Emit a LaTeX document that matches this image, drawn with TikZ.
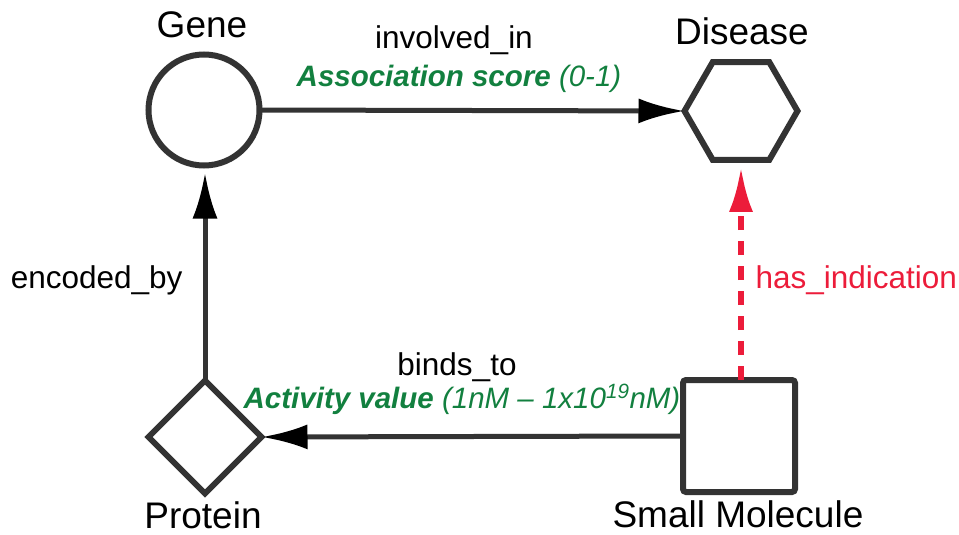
\documentclass[tikz,border=0pt]{standalone}
\usepackage{fontspec}
\setmainfont{Liberation Sans}
\usetikzlibrary{arrows.meta,shapes.geometric}

\definecolor{shapegray}{HTML}{333333}
\definecolor{scoregreen}{HTML}{12803F}
\definecolor{indicred}{HTML}{EC1C3A}

\tikzset{
  entity/.style={draw=shapegray, line width=6pt, inner sep=0pt, outer sep=0pt},
  entitylabel/.style={anchor=base, font=\fontsize{37}{42}\selectfont, text=black},
  relation/.style={draw=shapegray, line width=5pt,
    -{Latex[length=46pt,width=25pt,color=black]}},
  indication/.style={draw=indicred, line width=6pt, dash pattern=on 14pt off 11pt,
    -{Latex[length=45pt,width=24pt,color=indicred]}},
  rellabel/.style={anchor=base, font=\fontsize{31.5}{36}\selectfont, text=black},
  scorelabel/.style={anchor=base, font=\fontsize{29.5}{34}\selectfont\itshape, text=scoregreen},
}

\begin{document}
\begin{tikzpicture}[x=1pt,y=-1pt]
  \useasboundingbox (0,0) rectangle (959,535);

  % entities
  \node[entity, circle, minimum size=111pt] (gene) at (204,110) {};
  \node[entity, regular polygon, regular polygon sides=6, minimum size=113pt] (disease) at (741,111) {};
  \node[entity, diamond, minimum width=113pt, minimum height=113pt, aspect=1] (protein) at (205,437) {};
  \node[entity, rectangle, rounded corners=3pt, minimum size=112pt] (molecule) at (739,436) {};

  % entity names
  \node[entitylabel] (genename) at (202,38) {Gene};
  \node[entitylabel] (diseasename) at (742,45) {Disease};
  \node[entitylabel] (proteinname) at (203,528) {Protein};
  \node[entitylabel] (moleculename) at (738,527) {Small Molecule};

  % relations
  \draw[relation] (gene.east) -- (disease.west);
  \draw[relation] (molecule.west) -- (protein.east);
  \draw[relation, shorten >=7pt] (protein.north) -- (protein.north |- gene.south);
  \draw[indication, shorten >=7pt] (molecule.north -| disease.south) -- (disease.south);

  % relation labels
  \node[rellabel] (involvedlbl) at (454,49) {involved\_in};
  \node[scorelabel] (assoclbl) at (459,87) {\textbf{Association score} (0-1)};
  \node[rellabel] (bindslbl) at (457,375) {binds\_to};
  \node[scorelabel] (activitylbl) at (462,408) {\textbf{Activity value} (1nM – 1x10\textsuperscript{19}nM)};
  \node[rellabel, anchor=base east] (encodedlbl) at (186,288) {encoded\_by};
  \node[rellabel, anchor=base west, text=indicred] (indiclbl) at (752,288) {has\_indication};
\end{tikzpicture}
\end{document}
